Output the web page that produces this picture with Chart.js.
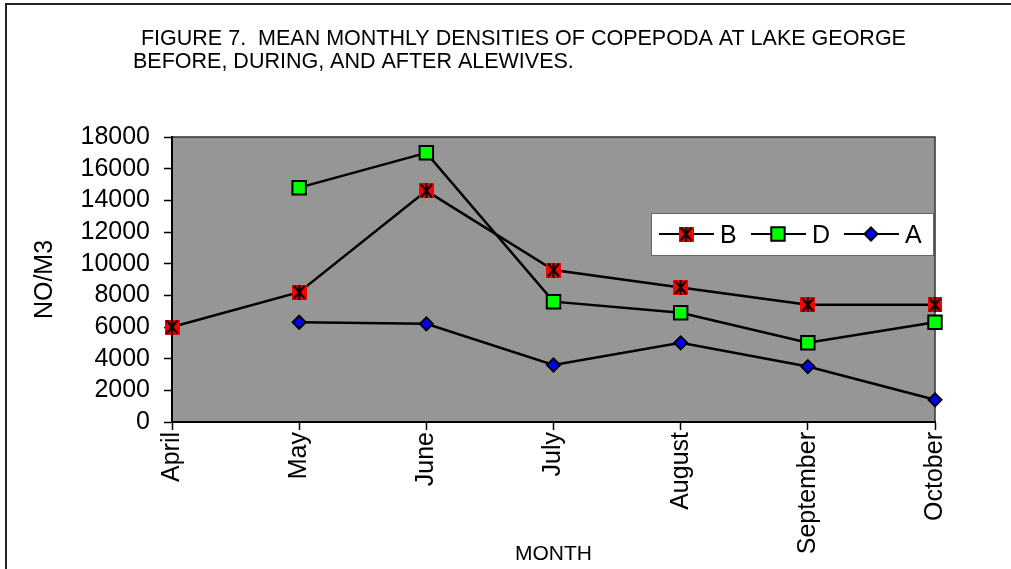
<!DOCTYPE html>
<html>
<head>
<meta charset="utf-8">
<script src="https://cdn.jsdelivr.net/npm/chart.js@4/dist/chart.umd.min.js"></script>
<style>
  body { margin: 0; background: #fff; }
  #wrap { width: 1011px; height: 569px; }
</style>
</head>
<body>
<div id="wrap"><canvas id="copepodaChart" width="1011" height="569"></canvas></div>
<script>
// values (NO/M3 by month)
const months = ['April', 'May', 'June', 'July', 'August', 'September', 'October'];
const seriesB = [6000, 8200, 14600, 9600, 8500, 7400, 7400];
const seriesD = [null, 14800, 17000, 7600, 6900, 5000, 6300];
const seriesA = [null, 6300, 6200, 3600, 5000, 3500, 1400];
const yTicks = { min: 0, max: 18000, step: 2000 };

const FONT = '"Liberation Sans", Arial, sans-serif';

// red square with a black asterisk, used for series B
function makeStarBox() {
    const c = document.createElement('canvas');
    c.width = 15;
    c.height = 15;
    const g = c.getContext('2d');
    g.fillStyle = '#ff0000';
    g.fillRect(0, 0, 15, 15);
    g.strokeStyle = '#000';
    g.lineWidth = 2;
    g.beginPath();
    g.moveTo(2, 1); g.lineTo(13, 14);
    g.moveTo(13, 1); g.lineTo(2, 14);
    g.moveTo(7.5, 0); g.lineTo(7.5, 15);
    g.stroke();
    return c;
}
const starBox = makeStarBox();

const plotFrame = {
    id: 'plotFrame',
    beforeDraw(chart) {
        const { ctx, chartArea: a } = chart;
        ctx.save();
        // outer figure border (top and left)
        ctx.strokeStyle = '#222';
        ctx.lineWidth = 2;
        ctx.beginPath();
        ctx.moveTo(6, chart.height);
        ctx.lineTo(6, 4);
        ctx.lineTo(chart.width, 4);
        ctx.stroke();
        // plot background
        ctx.fillStyle = '#969696';
        ctx.fillRect(a.left, a.top, a.right - a.left, a.bottom - a.top);
        ctx.strokeStyle = '#333';
        ctx.lineWidth = 1.5;
        ctx.strokeRect(a.left, a.top, a.right - a.left, a.bottom - a.top);
        // figure title
        ctx.fillStyle = '#000';
        ctx.font = '21.5px ' + FONT;
        ctx.textBaseline = 'middle';
        ctx.textAlign = 'left';
        ctx.fillText(' FIGURE 7.  MEAN MONTHLY DENSITIES OF COPEPODA AT LAKE GEORGE', 135, 39);
        ctx.fillText('BEFORE, DURING, AND AFTER ALEWIVES.', 133, 62);
        ctx.restore();
    }
};

const boxLegend = {
    id: 'boxLegend',
    afterDatasetsDraw(chart) {
        const ctx = chart.ctx;
        const a = chart.chartArea;
        const x = a.right - 284, y = 213, w = 282, h = 42;
        ctx.save();
        ctx.fillStyle = '#fff';
        ctx.fillRect(x, y, w, h);
        ctx.strokeStyle = '#666';
        ctx.lineWidth = 1;
        ctx.strokeRect(x + 0.5, y + 0.5, w, h);
        const cy = y + 21;
        const starts = [8, 100, 193];
        chart.data.datasets.forEach(function(ds, i) {
            const x0 = x + starts[i];
            ctx.strokeStyle = '#000';
            ctx.lineWidth = 2;
            ctx.beginPath();
            ctx.moveTo(x0, cy);
            ctx.lineTo(x0 + 55, cy);
            ctx.stroke();
            ctx.fillStyle = ds.pointBackgroundColor;
            ctx.strokeStyle = '#000';
            ctx.lineWidth = ds.pointBorderWidth;
            Chart.helpers.drawPoint(ctx, {
                pointStyle: ds.pointStyle,
                radius: ds.pointRadius,
                rotation: 0,
                borderWidth: ds.pointBorderWidth
            }, x0 + 27, cy);
            ctx.fillStyle = '#000';
            ctx.font = '25px ' + FONT;
            ctx.textBaseline = 'middle';
            ctx.textAlign = 'left';
            ctx.fillText(ds.label, x0 + 61, cy + 2);
        });
        ctx.restore();
    }
};

function drawCopepodaChart() {
    const ctx = document.getElementById('copepodaChart').getContext('2d');

    new Chart(ctx, {
        type: 'line',
        data: {
            labels: months,
            datasets: [{
                label: 'B',
                data: seriesB,
                borderColor: '#000',
                borderWidth: 2.5,
                pointStyle: starBox,
                pointRadius: 7,
                pointBackgroundColor: '#ff0000',
                pointBorderColor: '#000',
                pointBorderWidth: 0,
                tension: 0,
                fill: false
            }, {
                label: 'D',
                data: seriesD,
                borderColor: '#000',
                borderWidth: 2.5,
                pointStyle: 'rect',
                pointRadius: 9.5,
                pointBackgroundColor: '#00ff00',
                pointBorderColor: '#000',
                pointBorderWidth: 2,
                tension: 0,
                fill: false
            }, {
                label: 'A',
                data: seriesA,
                borderColor: '#000',
                borderWidth: 2.5,
                pointStyle: 'rectRot',
                pointRadius: 6.5,
                pointBackgroundColor: '#0000ff',
                pointBorderColor: '#000',
                pointBorderWidth: 2,
                tension: 0,
                fill: false
            }]
        },
        options: {
            responsive: false,
            animation: false,
            layout: {
                padding: { left: 10, right: 76, top: 137, bottom: 0 }
            },
            plugins: {
                legend: { display: false },
                tooltip: { enabled: false }
            },
            scales: {
                x: {
                    offset: false,
                    afterFit: function(scale) { scale.height = 147; },
                    border: { display: true, color: '#000', width: 2 },
                    grid: {
                        drawOnChartArea: false,
                        drawTicks: true,
                        tickLength: 8,
                        tickColor: '#000',
                        tickWidth: 1.5
                    },
                    ticks: {
                        color: '#000',
                        font: { family: FONT, size: 25 },
                        minRotation: 90,
                        maxRotation: 90,
                        padding: 2,
                        autoSkip: false
                    },
                    title: {
                        display: true,
                        text: 'MONTH',
                        color: '#000',
                        font: { family: FONT, size: 21 },
                        padding: { top: 0, bottom: 2 }
                    }
                },
                y: {
                    min: yTicks.min,
                    max: yTicks.max,
                    afterFit: function(scale) { scale.width = 162; },
                    border: { display: true, color: '#000', width: 2 },
                    grid: {
                        drawOnChartArea: false,
                        drawTicks: true,
                        tickLength: 8,
                        tickColor: '#000',
                        tickWidth: 1.5
                    },
                    ticks: {
                        stepSize: yTicks.step,
                        autoSkip: false,
                        color: '#000',
                        font: { family: FONT, size: 25 },
                        padding: 14,
                        callback: function(value) { return String(value); }
                    },
                    title: {
                        display: true,
                        text: 'NO/M3',
                        color: '#000',
                        font: { family: FONT, size: 25 },
                        padding: { top: 20, bottom: 0 }
                    }
                }
            }
        },
        plugins: [plotFrame, boxLegend]
    });
}

drawCopepodaChart();
</script>
</body>
</html>
